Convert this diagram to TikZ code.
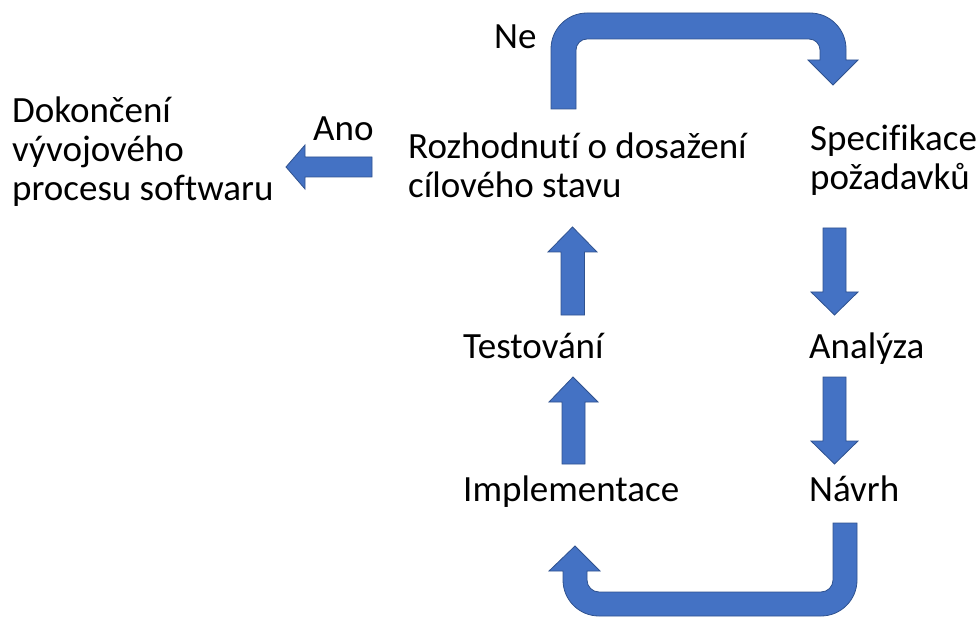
\documentclass[tikz,border=0pt]{standalone}
\usepackage{fontspec}
\setmainfont{Carlito}[Ligatures=NoCommon]
\definecolor{arrowfill}{HTML}{4472C4}
\definecolor{arrowline}{HTML}{2F528F}
\begin{document}
\begin{tikzpicture}[x=1pt,y=-1pt,
  label/.style={font=\fontsize{37}{39}\selectfont, inner sep=0pt, anchor=base west, align=left, text=black},
  blockarrow/.style={fill=arrowfill, draw=arrowline, line width=0.8pt, line join=miter}]
\useasboundingbox (0,0) rectangle (976,617);

% labels of the process steps (multi-line nodes sit on their last baseline)
\node[label] (done) at (12,201) {Dokončení\\vývojového\\procesu softwaru};
\node[label] (decision) at (408,198) {Rozhodnutí o dosažení\\cílového stavu};
\node[label] (spec) at (810,190) {Specifikace\\požadavků};
\node[label] (analysis) at (809,358) {Analýza};
\node[label] (design) at (809,501) {Návrh};
\node[label] (impl) at (463,501) {Implementace};
\node[label] (test) at (463,358) {Testování};
\node[label] (no) at (494,49) {Ne};
\node[label] (yes) at (313,141) {Ano};

% "Ano": decision -> done
\draw[blockarrow] (286,167) -- (305,145) -- (305,157) -- (372,157) -- (372,177)
  -- (305,177) -- (305,189) -- cycle;

% spec -> analysis -> design
\draw[blockarrow] (823,228) -- (846,228) -- (846,292) -- (858,292) -- (834.5,315)
  -- (811,292) -- (823,292) -- cycle;
\draw[blockarrow] (823,377) -- (846,377) -- (846,441) -- (858,441) -- (834.5,464)
  -- (811,441) -- (823,441) -- cycle;

% implementation -> testing -> decision
\draw[blockarrow] (573,377) -- (598,402) -- (585,402) -- (585,464) -- (562,464)
  -- (562,402) -- (549,402) -- cycle;
\draw[blockarrow] (572.5,227) -- (597,252) -- (584.5,252) -- (584.5,315) -- (561,315)
  -- (561,252) -- (548,252) -- cycle;

% "Ne": decision back to spec, bent over the top
\draw[blockarrow] (551,109) -- (551,49) arc[start angle=180,end angle=270,radius=36]
  -- (810,13) arc[start angle=270,end angle=360,radius=36]
  -- (846,60) -- (858,60) -- (833,85) -- (808,60) -- (820,60) -- (820,50)
  arc[start angle=0,end angle=-90,radius=11]
  -- (587,39) arc[start angle=270,end angle=180,radius=11]
  -- (576,109) -- cycle;

% design -> implementation, bent under the bottom
\draw[blockarrow] (833,523) -- (857,523) -- (857,580)
  arc[start angle=0,end angle=90,radius=36]
  -- (599,616) arc[start angle=90,end angle=180,radius=36]
  -- (563,571) -- (549,571) -- (575,546) -- (600,571) -- (587,571) -- (587,580)
  arc[start angle=180,end angle=90,radius=12]
  -- (821,592) arc[start angle=90,end angle=0,radius=12]
  -- cycle;
\end{tikzpicture}
\end{document}
